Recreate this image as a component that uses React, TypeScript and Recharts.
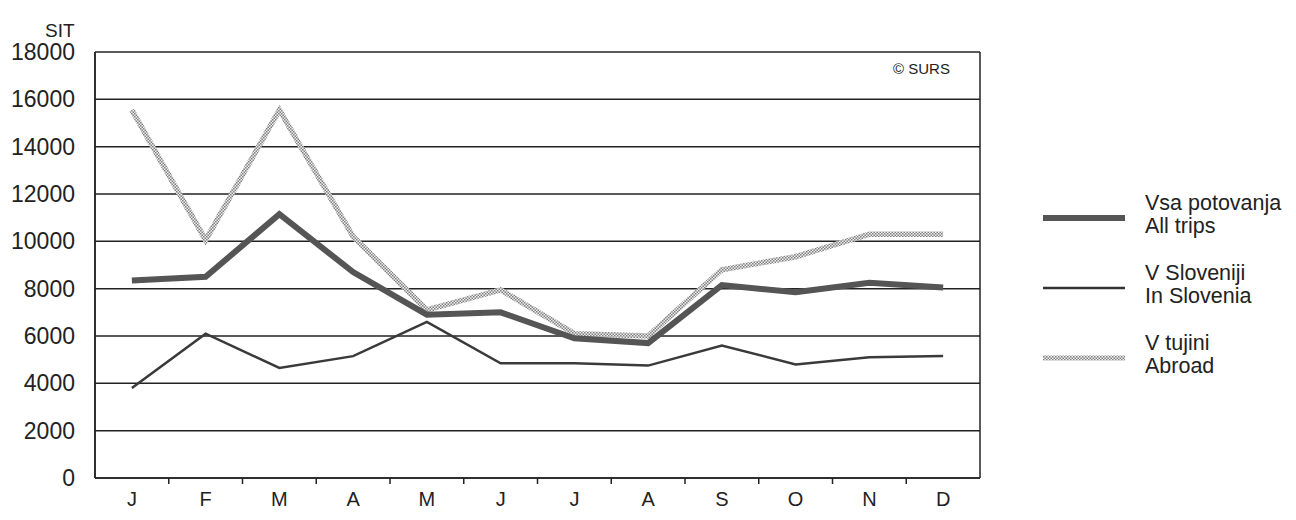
import React from 'react';
import {
  LineChart,
  Line,
  XAxis,
  YAxis,
  CartesianGrid,
} from 'recharts';

// monthly average spending per trip (SIT)
const months = ['J', 'F', 'M', 'A', 'M', 'J', 'J', 'A', 'S', 'O', 'N', 'D'];
const allTrips = [8350, 8500, 11150, 8700, 6900, 7000, 5900, 5700, 8150, 7850, 8250, 8050];
const inSlovenia = [3800, 6100, 4650, 5150, 6600, 4850, 4850, 4750, 5600, 4800, 5100, 5150];
const abroad = [15550, 10050, 15550, 10200, 7100, 7950, 6100, 6000, 8800, 9350, 10300, 10300];
const yTicks = [0, 2000, 4000, 6000, 8000, 10000, 12000, 14000, 16000, 18000];

const legendItems = [
  { top: 'Vsa potovanja', bottom: 'All trips', stroke: '#555', width: 6 },
  { top: 'V Sloveniji', bottom: 'In Slovenia', stroke: '#333', width: 2.5 },
  { top: 'V tujini', bottom: 'Abroad', stroke: 'url(#chk)', width: 5 },
];

const data = months.map((m, i) => ({
  month: m,
  all: allTrips[i],
  slo: inSlovenia[i],
  abr: abroad[i],
}));

const W = 1280;
const H = 504;
const M = { top: 44, right: 308, left: 0, bottom: 0 };
const Y_W = 87;
const PLOT_W = W - M.right - Y_W;
const BAND = PLOT_W / months.length;
const FONT = '"Liberation Sans", Arial, sans-serif';

function MonthTick(props: any) {
  const { x, y, payload, index } = props;
  return (
    <g>
      {index > 0 && (
        <line x1={x - BAND / 2} x2={x - BAND / 2} y1={y} y2={y + 6} stroke="#222" strokeWidth={1.5} />
      )}
      <text x={x} y={y + 28} textAnchor="middle" fontSize={20} fill="#222" fontFamily={FONT}>
        {payload.value}
      </text>
    </g>
  );
}

function LegendBox() {
  return (
    <div
      style={{
        position: 'absolute',
        left: 1035,
        top: 177,
        fontFamily: FONT,
        color: '#222',
        fontSize: 21.5,
      }}
    >
      {legendItems.map((it) => (
        <div key={it.top} style={{ display: 'flex', alignItems: 'center', height: 70 }}>
          <svg width={82} height={10} style={{ marginRight: 20, marginTop: -4 }}>
            <line x1={0} x2={82} y1={5} y2={5} stroke={it.stroke} strokeWidth={it.width} />
          </svg>
          <div style={{ lineHeight: '23px', marginTop: -10 }}>
            <div>{it.top}</div>
            <div>{it.bottom}</div>
          </div>
        </div>
      ))}
    </div>
  );
}

export default function App() {
  return (
    <div style={{ position: 'relative', width: W, height: H, fontFamily: FONT }}>
      <svg width={0} height={0} style={{ position: 'absolute' }}>
        <defs>
          <pattern id="chk" width="3" height="3" patternUnits="userSpaceOnUse">
            <rect width="3" height="3" fill="#eeeeee" />
            <rect width="1.5" height="1.5" fill="#808080" />
            <rect x="1.5" y="1.5" width="1.5" height="1.5" fill="#808080" />
          </pattern>
        </defs>
      </svg>
      <div style={{ position: 'absolute', left: 37, top: 12, fontSize: 19, color: '#222' }}>SIT</div>
      <div style={{ position: 'absolute', left: 885, top: 52, fontSize: 15, color: '#222', zIndex: 2 }}>
        © SURS
      </div>
      <LegendBox />
      <LineChart width={W} height={H} data={data} margin={M}>
        <CartesianGrid
          vertical
          stroke="#222"
          strokeWidth={1.5}
          verticalCoordinatesGenerator={({ offset }: any) => [offset.left, offset.left + offset.width]}
        />
        <XAxis
          dataKey="month"
          height={34}
          padding={{ left: BAND / 2, right: BAND / 2 }}
          axisLine={{ stroke: '#222', strokeWidth: 1.5 }}
          tickLine={false}
          tickSize={0}
          tickMargin={0}
          interval={0}
          tick={<MonthTick />}
        />
        <YAxis
          width={Y_W}
          domain={[0, 18000]}
          ticks={yTicks}
          interval={0}
          axisLine={{ stroke: '#222', strokeWidth: 1.5 }}
          tickLine={false}
          tickSize={0}
          tickMargin={20}
          tick={{ fontSize: 23, fill: '#222', fontFamily: FONT }}
        />
        <Line
          dataKey="abr"
          stroke="url(#chk)"
          strokeWidth={5.5}
          dot={false}
          isAnimationActive={false}
          strokeLinejoin="miter"
        />
        <Line
          dataKey="all"
          stroke="#555"
          strokeWidth={6}
          dot={false}
          isAnimationActive={false}
          strokeLinejoin="miter"
        />
        <Line
          dataKey="slo"
          stroke="#3a3a3a"
          strokeWidth={2.5}
          dot={false}
          isAnimationActive={false}
          strokeLinejoin="miter"
        />
      </LineChart>
    </div>
  );
}
